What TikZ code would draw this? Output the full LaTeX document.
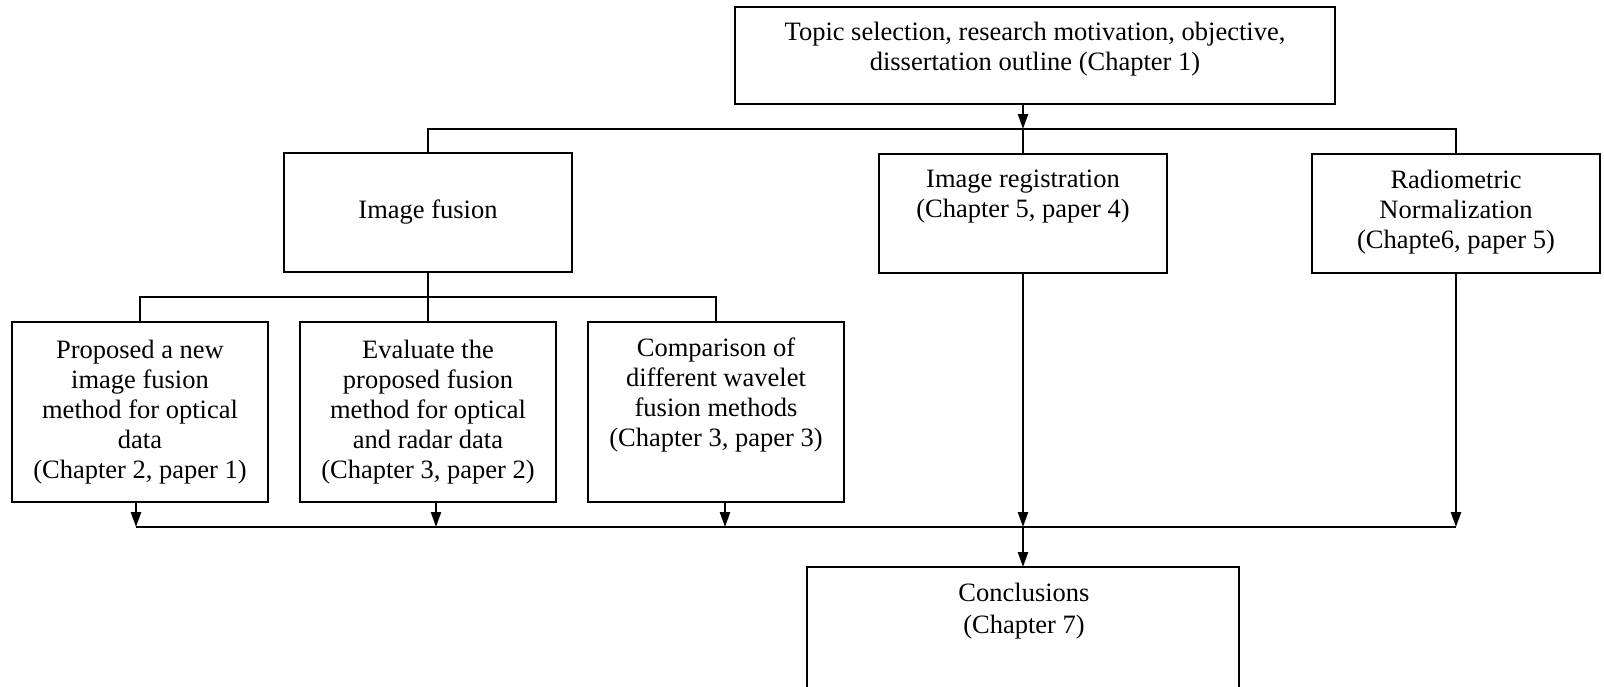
\documentclass[tikz,border=0pt]{standalone}
\usepackage{fontspec}
\setmainfont{Liberation Serif}
\usetikzlibrary{arrows.meta,calc}
\begin{document}
\begin{tikzpicture}[x=1pt,y=-1pt,
  boxnode/.style={draw, line width=2.4pt, inner sep=0pt, outer sep=0pt, anchor=north west},
  txt/.style={font=\fontsize{26.5}{30}\selectfont, align=center, inner sep=0pt},
  wire/.style={line width=2.4pt},
  arr/.style={line width=2.4pt, -{Triangle[length=15pt,width=10pt]}}]
\useasboundingbox (0,0) rectangle (1604,686);
\clip (0,0) rectangle (1604,686);
% boxes
\node[boxnode, minimum width=600, minimum height=97] (top) at (735,7) {};
\node[boxnode, minimum width=288, minimum height=119] (fus) at (284,153) {};
\node[boxnode, minimum width=288, minimum height=119] (reg) at (879,154) {};
\node[boxnode, minimum width=288, minimum height=119] (rad) at (1312,154) {};
\node[boxnode, minimum width=256, minimum height=180] (b1) at (12,322) {};
\node[boxnode, minimum width=256, minimum height=180] (b2) at (300,322) {};
\node[boxnode, minimum width=256, minimum height=180] (b3) at (588,322) {};
\node[boxnode, minimum width=432, minimum height=160] (conc) at (807,567) {};
% texts
\node[txt] (toptxt) at (1035,49.5) {Topic selection, research motivation, objective,\\dissertation outline (Chapter 1)};
\node[txt] (fustxt) at (428,212) {Image fusion};
\node[txt] (regtxt) at (1023,197) {Image registration\\(Chapter 5, paper 4)};
\node[txt] (radtxt) at (1456,212) {Radiometric\\Normalization\\(Chapte6, paper 5)};
\node[txt] (b1txt) at (140,412) {Proposed a new\\image fusion\\method for optical\\data\\(Chapter 2, paper 1)};
\node[txt] (b2txt) at (428,412) {Evaluate the\\proposed fusion\\method for optical\\and radar data\\(Chapter 3, paper 2)};
\node[txt] (b3txt) at (716,395) {Comparison of\\different wavelet\\fusion methods\\(Chapter 3, paper 3)};
\node[txt, font=\fontsize{26.5}{31.5}\selectfont] (conctxt) at (1024,611) {Conclusions\\(Chapter 7)};
% junctions
\coordinate (jr) at (1023,129);
\coordinate (js) at (428,297);
\coordinate (jc) at (1023,527);
% top level
\draw[arr] (top.south -| jr) -- (jr);
\draw[wire] (fus.north) |- (rad.north |- jr) -- (rad.north);
\draw[wire] (jr) -- (reg.north);
% fusion sub-tree
\draw[wire] (fus.south) -- (b2.north);
\draw[wire] (b1.north) |- (b3.north |- js) -- (b3.north);
% bottom bus
\draw[arr] ([xshift=-4]b1.south) -- ([xshift=-4]b1.south |- jc);
\draw[arr] ([xshift=8]b2.south) -- ([xshift=8]b2.south |- jc);
\draw[arr] ([xshift=9]b3.south) -- ([xshift=9]b3.south |- jc);
\draw[arr] (reg.south) -- (jc);
\draw[arr] (rad.south) -- (rad.south |- jc);
\draw[wire] ([xshift=-4]b1.south |- jc) -- (rad.south |- jc);
\draw[arr] (jc) -- (conc.north -| jc);
\end{tikzpicture}
\end{document}
